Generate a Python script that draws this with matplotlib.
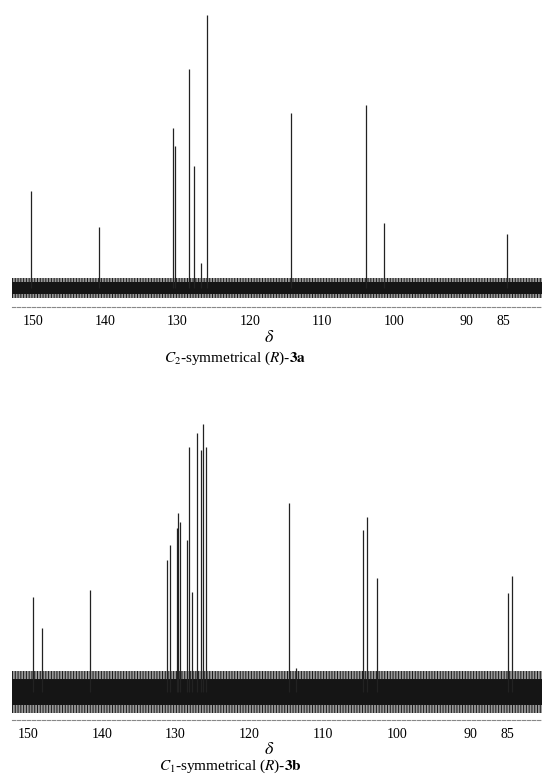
import matplotlib
matplotlib.use("Agg")
import matplotlib.pyplot as plt

plt.rcParams["font.family"] = ["Liberation Serif", "DejaVu Serif"]
plt.rcParams["mathtext.fontset"] = "stix"
plt.rcParams["hatch.linewidth"] = 0.7

# 13C NMR peak lists, chemical shift (ppm) and relative intensity (arb. units)
shift_3a = [150.3, 140.8, 130.6, 130.3, 128.4, 127.7, 126.8, 125.9, 114.3, 103.9, 101.5, 84.5]
height_3a = [97, 61, 160, 142, 219, 122, 25, 273, 175, 183, 65, 54]

shift_3b = [149.3, 148.1, 141.6, 131.1, 130.7, 129.8, 129.7, 129.4, 128.5, 128.2, 127.8,
            127.1, 126.6, 126.3, 125.9, 114.6, 113.6, 104.6, 104.1, 102.7, 84.9, 84.4]
height_3b = [95, 64, 102, 132, 147, 164, 179, 170, 152, 245, 100,
             259, 242, 268, 245, 189, 24, 162, 175, 114, 99, 116]

# baseline noise envelope (inner, outer)
noise_3a = (6, 10)
noise_3b = (13, 21)

ticks = [150, 140, 130, 120, 110, 100, 90, 85]
captions = [r"$C_2$-symmetrical ($R$)-$\mathbf{3a}$",
            r"$C_1$-symmetrical ($R$)-$\mathbf{3b}$"]


def draw_spectrum(ax, shifts, heights, noise, xlim, ylim):
    inner, outer = noise
    ax.axhspan(-outer, outer, facecolor="#9a9a9a", edgecolor="#1a1a1a", hatch="||||||", lw=0)
    ax.axhspan(-inner, inner, color="#151515", lw=0)
    ax.vlines(shifts, 0, heights, colors="#222222", lw=0.9)
    ax.set_xlim(*xlim)
    ax.set_ylim(*ylim)
    ax.set_xticks(ticks)
    ax.set_xticklabels([str(t) for t in ticks])
    ax.tick_params(axis="x", length=0, pad=6, labelsize=10)
    ax.set_yticks([])
    for s in ["top", "left", "right"]:
        ax.spines[s].set_visible(False)
    ax.spines["bottom"].set_linestyle((0, (3, 1.5)))
    ax.spines["bottom"].set_color("#888888")
    ax.spines["bottom"].set_linewidth(0.8)


fig = plt.figure(figsize=(5.42, 7.83), dpi=100)

ax1 = fig.add_axes([0.022, 1 - 307 / 783, 0.978, 307 / 783])
draw_spectrum(ax1, shift_3a, height_3a, noise_3a, (152.9, 79.6), (-19, 288))

ax2 = fig.add_axes([0.022, 1 - 720 / 783, 0.978, 320 / 783])
draw_spectrum(ax2, shift_3b, height_3b, noise_3b, (152.2, 80.3), (-28, 292))

fig.text(0.497, 1 - 338 / 783, r"$\delta$", ha="center", va="center", fontsize=13)
fig.text(0.434, 1 - 358 / 783, captions[0], ha="center", va="center", fontsize=11)
fig.text(0.497, 1 - 750 / 783, r"$\delta$", ha="center", va="center", fontsize=13)
fig.text(0.425, 1 - 766 / 783, captions[1], ha="center", va="center", fontsize=11)

fig.savefig("out.png", dpi=100)
